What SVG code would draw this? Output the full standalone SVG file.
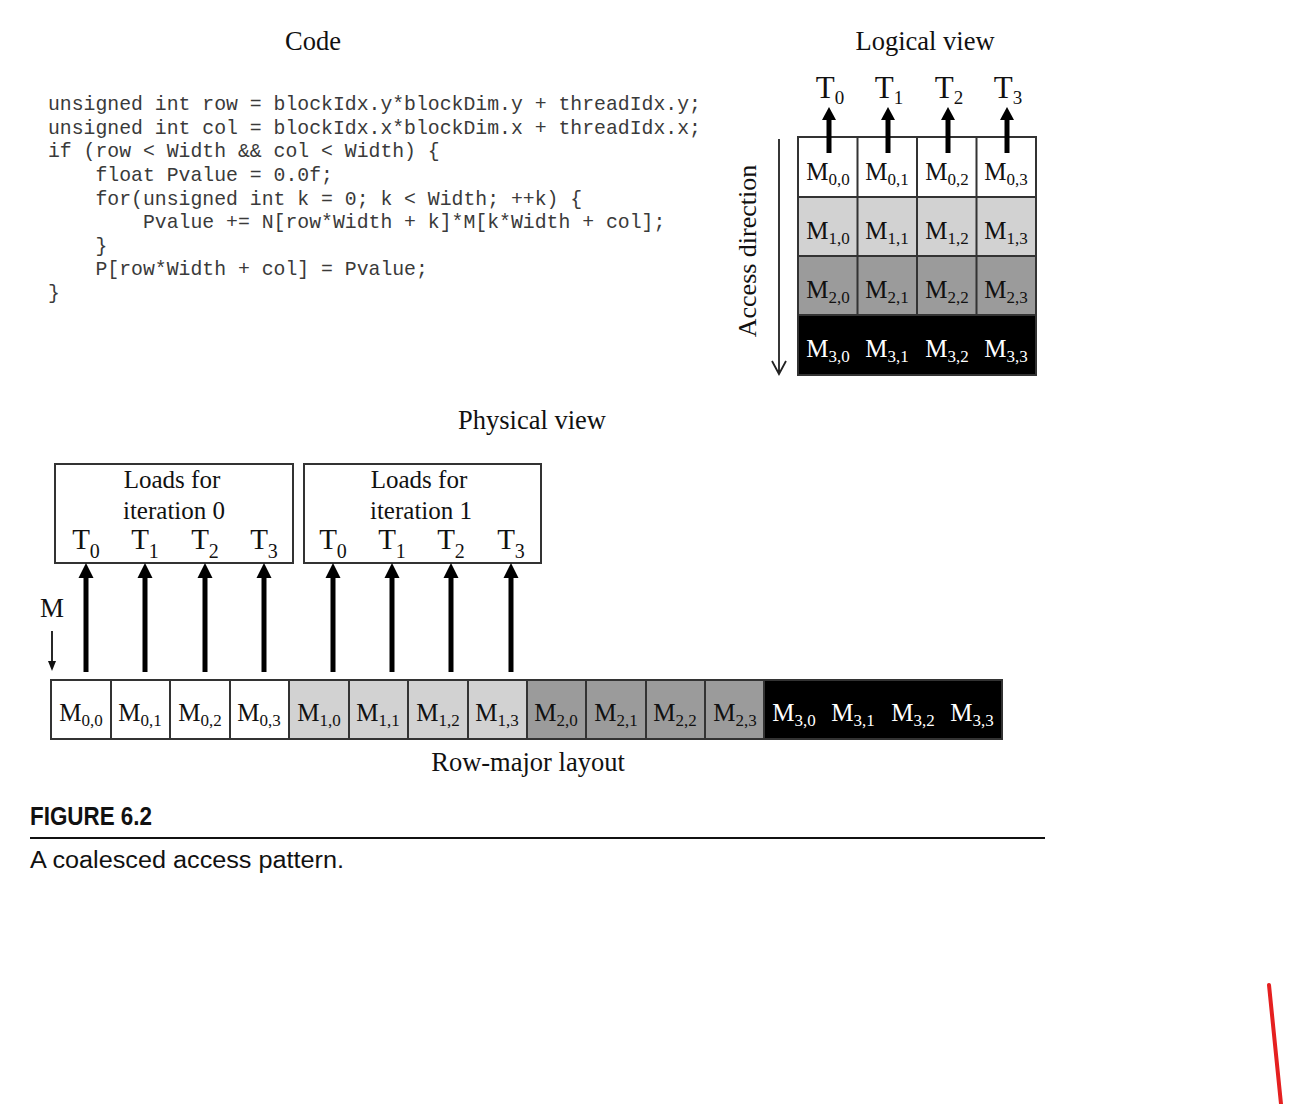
<svg xmlns="http://www.w3.org/2000/svg" width="1315" height="1104" viewBox="0 0 1315 1104">
<style>
.t{font-family:"Liberation Serif","Times New Roman",serif;fill:#111}
.title{font-size:26.5px;text-anchor:middle}
.code{font-family:"Liberation Mono","Courier New",monospace;font-size:19.8px;fill:#3a3a3a;white-space:pre}
.cell{font-family:"Liberation Serif","Times New Roman",serif;font-size:25px;text-anchor:middle;fill:#111}
.w{fill:#fff}
.tl{font-family:"Liberation Serif","Times New Roman",serif;font-size:31px;text-anchor:middle;fill:#111}
.tp{font-family:"Liberation Serif","Times New Roman",serif;font-size:29px;text-anchor:middle;fill:#111}
.grid{stroke:#333;stroke-width:2;fill:none}
.arr{stroke:#000;stroke-width:5;fill:none}
.ah{fill:#000}
.cap{font-family:"Liberation Sans Narrow","Liberation Sans",Arial,sans-serif;fill:#111}
</style>
<rect width="1315" height="1104" fill="#fff"/>

<g id="code">
<text class="t title" x="313" y="50">Code</text>
<text class="code" x="48" y="110">unsigned int row = blockIdx.y*blockDim.y + threadIdx.y;</text>
<text class="code" x="48" y="134">unsigned int col = blockIdx.x*blockDim.x + threadIdx.x;</text>
<text class="code" x="48" y="157">if (row &lt; Width &amp;&amp; col &lt; Width) {</text>
<text class="code" x="48" y="181">    float Pvalue = 0.0f;</text>
<text class="code" x="48" y="205">    for(unsigned int k = 0; k &lt; Width; ++k) {</text>
<text class="code" x="48" y="228">        Pvalue += N[row*Width + k]*M[k*Width + col];</text>
<text class="code" x="48" y="252">    }</text>
<text class="code" x="48" y="275">    P[row*Width + col] = Pvalue;</text>
<text class="code" x="48" y="299">}</text>
</g>

<g id="logical-view">
<text class="t title" x="925" y="50">Logical view</text>
<rect x="798" y="137" width="238" height="60" fill="#fff"/>
<rect x="798" y="197" width="238" height="59" fill="#d2d2d2"/>
<rect x="798" y="256" width="238" height="59" fill="#9b9b9b"/>
<rect x="798" y="315" width="238" height="60" fill="#000"/>
<rect class="grid" x="798" y="137" width="238" height="238"/>
<path class="grid" d="M798,197H1036M798,256H1036M798,315H1036M857.5,137V315M917,137V315M976.5,137V315"/>
<g id="logical-cells">
<text class="cell" x="828" y="180">M<tspan font-size="17" dy="5">0,0</tspan></text>
<text class="cell" x="887" y="180">M<tspan font-size="17" dy="5">0,1</tspan></text>
<text class="cell" x="947" y="180">M<tspan font-size="17" dy="5">0,2</tspan></text>
<text class="cell" x="1006" y="180">M<tspan font-size="17" dy="5">0,3</tspan></text>
<text class="cell" x="828" y="239">M<tspan font-size="17" dy="5">1,0</tspan></text>
<text class="cell" x="887" y="239">M<tspan font-size="17" dy="5">1,1</tspan></text>
<text class="cell" x="947" y="239">M<tspan font-size="17" dy="5">1,2</tspan></text>
<text class="cell" x="1006" y="239">M<tspan font-size="17" dy="5">1,3</tspan></text>
<text class="cell" x="828" y="298">M<tspan font-size="17" dy="5">2,0</tspan></text>
<text class="cell" x="887" y="298">M<tspan font-size="17" dy="5">2,1</tspan></text>
<text class="cell" x="947" y="298">M<tspan font-size="17" dy="5">2,2</tspan></text>
<text class="cell" x="1006" y="298">M<tspan font-size="17" dy="5">2,3</tspan></text>
<text class="cell w" x="828" y="357">M<tspan font-size="17" dy="5">3,0</tspan></text>
<text class="cell w" x="887" y="357">M<tspan font-size="17" dy="5">3,1</tspan></text>
<text class="cell w" x="947" y="357">M<tspan font-size="17" dy="5">3,2</tspan></text>
<text class="cell w" x="1006" y="357">M<tspan font-size="17" dy="5">3,3</tspan></text>
</g>
<text class="tl" x="830" y="98">T<tspan font-size="19" dy="6">0</tspan></text>
<text class="tl" x="889" y="98">T<tspan font-size="19" dy="6">1</tspan></text>
<text class="tl" x="949" y="98">T<tspan font-size="19" dy="6">2</tspan></text>
<text class="tl" x="1008" y="98">T<tspan font-size="19" dy="6">3</tspan></text>
<text class="t" font-size="26" text-anchor="middle" transform="translate(756,251) rotate(-90)">Access direction</text>
</g>

<g id="physical-view">
<text class="t title" x="532" y="429">Physical view</text>
<g id="box-iter0">
<rect class="grid" x="55" y="464" width="238" height="99" fill="#fff"/>
<text class="t" font-size="25" text-anchor="middle" x="172" y="488">Loads for</text>
<text class="t" font-size="25" text-anchor="middle" x="174" y="519">iteration 0</text>
<text class="tp" x="86" y="549">T<tspan font-size="20" dy="9">0</tspan></text>
<text class="tp" x="145" y="549">T<tspan font-size="20" dy="9">1</tspan></text>
<text class="tp" x="205" y="549">T<tspan font-size="20" dy="9">2</tspan></text>
<text class="tp" x="264" y="549">T<tspan font-size="20" dy="9">3</tspan></text>
</g>
<g id="box-iter1">
<rect class="grid" x="304" y="464" width="237" height="99" fill="#fff"/>
<text class="t" font-size="25" text-anchor="middle" x="419" y="488">Loads for</text>
<text class="t" font-size="25" text-anchor="middle" x="421" y="519">iteration 1</text>
<text class="tp" x="333" y="549">T<tspan font-size="20" dy="9">0</tspan></text>
<text class="tp" x="392" y="549">T<tspan font-size="20" dy="9">1</tspan></text>
<text class="tp" x="451" y="549">T<tspan font-size="20" dy="9">2</tspan></text>
<text class="tp" x="511" y="549">T<tspan font-size="20" dy="9">3</tspan></text>
</g>
<text class="t" font-size="27" text-anchor="middle" x="52" y="617">M</text>
<g id="row-major">
<rect x="51" y="680" width="238" height="59" fill="#fff"/>
<rect x="289" y="680" width="238" height="59" fill="#d2d2d2"/>
<rect x="527" y="680" width="237" height="59" fill="#9b9b9b"/>
<rect x="764" y="680" width="238" height="59" fill="#000"/>
<rect class="grid" x="51" y="680" width="951" height="59"/>
<path class="grid" d="M111,680V739M170,680V739M230,680V739M289,680V739M349,680V739M408,680V739M468,680V739M527,680V739M586,680V739M646,680V739M705,680V739M764,680V739"/>
<text class="cell" x="81" y="721">M<tspan font-size="17" dy="5">0,0</tspan></text>
<text class="cell" x="140" y="721">M<tspan font-size="17" dy="5">0,1</tspan></text>
<text class="cell" x="200" y="721">M<tspan font-size="17" dy="5">0,2</tspan></text>
<text class="cell" x="259" y="721">M<tspan font-size="17" dy="5">0,3</tspan></text>
<text class="cell" x="319" y="721">M<tspan font-size="17" dy="5">1,0</tspan></text>
<text class="cell" x="378" y="721">M<tspan font-size="17" dy="5">1,1</tspan></text>
<text class="cell" x="438" y="721">M<tspan font-size="17" dy="5">1,2</tspan></text>
<text class="cell" x="497" y="721">M<tspan font-size="17" dy="5">1,3</tspan></text>
<text class="cell" x="556" y="721">M<tspan font-size="17" dy="5">2,0</tspan></text>
<text class="cell" x="616" y="721">M<tspan font-size="17" dy="5">2,1</tspan></text>
<text class="cell" x="675" y="721">M<tspan font-size="17" dy="5">2,2</tspan></text>
<text class="cell" x="735" y="721">M<tspan font-size="17" dy="5">2,3</tspan></text>
<text class="cell w" x="794" y="721">M<tspan font-size="17" dy="5">3,0</tspan></text>
<text class="cell w" x="853" y="721">M<tspan font-size="17" dy="5">3,1</tspan></text>
<text class="cell w" x="913" y="721">M<tspan font-size="17" dy="5">3,2</tspan></text>
<text class="cell w" x="972" y="721">M<tspan font-size="17" dy="5">3,3</tspan></text>
</g>
<text class="t" font-size="26.5" text-anchor="middle" x="528" y="771">Row-major layout</text>
</g>

<g id="connectors">
<g id="logical-arrows">
<line class="arr" x1="829" y1="153" x2="829" y2="118"/><path class="ah" d="M829,107L836,120H822Z"/>
<line class="arr" x1="888" y1="153" x2="888" y2="118"/><path class="ah" d="M888,107L895,120H881Z"/>
<line class="arr" x1="948" y1="153" x2="948" y2="118"/><path class="ah" d="M948,107L955,120H941Z"/>
<line class="arr" x1="1007" y1="153" x2="1007" y2="118"/><path class="ah" d="M1007,107L1014,120H1000Z"/>
</g>
<path d="M779,139V374M772,361L779,374L786,361" stroke="#222" stroke-width="1.8" fill="none"/>
<g id="physical-arrows">
<line class="arr" x1="86" y1="672" x2="86" y2="575"/><path class="ah" d="M86,563L93.5,578H78.5Z"/>
<line class="arr" x1="145" y1="672" x2="145" y2="575"/><path class="ah" d="M145,563L152.5,578H137.5Z"/>
<line class="arr" x1="205" y1="672" x2="205" y2="575"/><path class="ah" d="M205,563L212.5,578H197.5Z"/>
<line class="arr" x1="264" y1="672" x2="264" y2="575"/><path class="ah" d="M264,563L271.5,578H256.5Z"/>
<line class="arr" x1="333" y1="672" x2="333" y2="575"/><path class="ah" d="M333,563L340.5,578H325.5Z"/>
<line class="arr" x1="392" y1="672" x2="392" y2="575"/><path class="ah" d="M392,563L399.5,578H384.5Z"/>
<line class="arr" x1="451" y1="672" x2="451" y2="575"/><path class="ah" d="M451,563L458.5,578H443.5Z"/>
<line class="arr" x1="511" y1="672" x2="511" y2="575"/><path class="ah" d="M511,563L518.5,578H503.5Z"/>
</g>
<path d="M52,631V663" stroke="#111" stroke-width="1.8"/>
<path d="M48,661L52,671L56,661Z" fill="#111"/>
</g>

<g id="caption">
<text class="cap" font-size="25" font-weight="bold" x="30" y="825" textLength="122" lengthAdjust="spacingAndGlyphs">FIGURE 6.2</text>
<line x1="30" y1="838" x2="1045" y2="838" stroke="#111" stroke-width="2"/>
<text class="cap" font-size="23" x="30" y="868" textLength="314" lengthAdjust="spacingAndGlyphs">A coalesced access pattern.</text>
</g>
<line x1="1269" y1="985" x2="1281" y2="1104" stroke="#e52020" stroke-width="4" stroke-linecap="round"/>
</svg>
